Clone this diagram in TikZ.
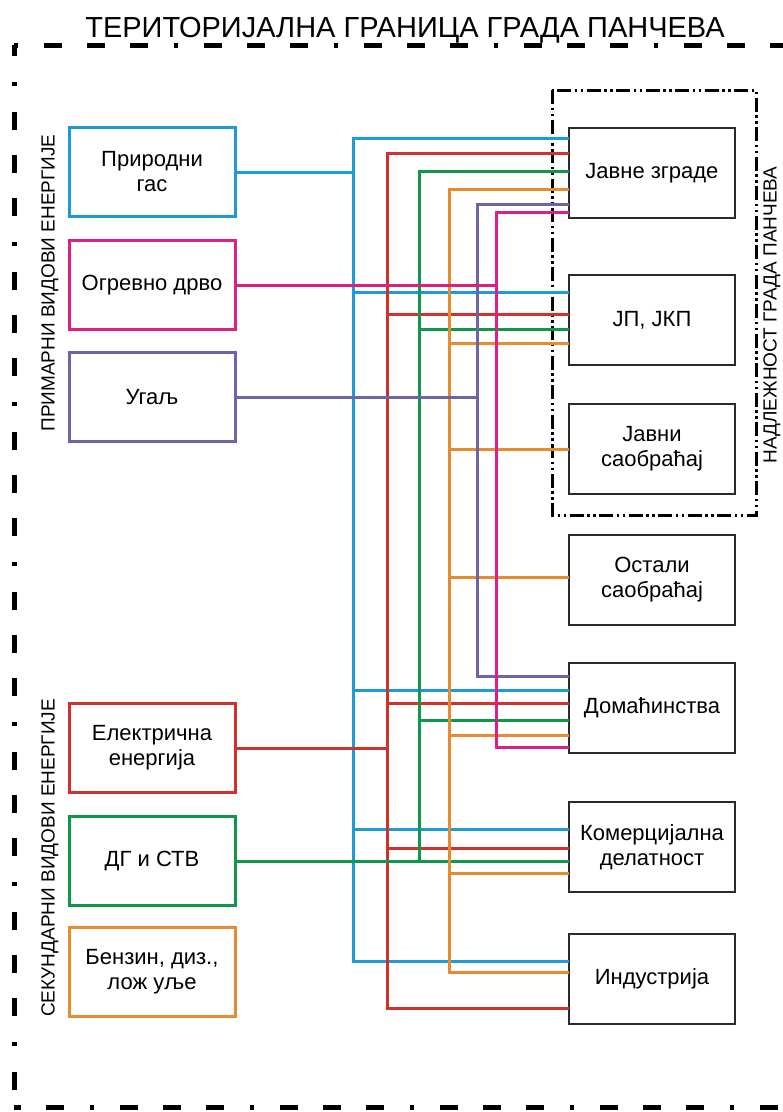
\documentclass[tikz,border=0pt]{standalone}
\usepackage{fontspec}
\setmainfont{Liberation Sans}
\usetikzlibrary{positioning, calc}
\definecolor{pcblue}{HTML}{1E9BD7}
\definecolor{pcred}{HTML}{D0312D}
\definecolor{pcgreen}{HTML}{10984A}
\definecolor{pcorange}{HTML}{E88B2E}
\definecolor{pcpurple}{HTML}{6E64A8}
\definecolor{pcmagenta}{HTML}{DE1F83}
\definecolor{pcgray}{HTML}{2B2B2B}

\begin{document}
\begin{tikzpicture}[
  x=1pt, y=-1pt,
  every node/.style={font=\fontsize{22}{25}\selectfont},
  srcnode/.style={rectangle, draw, line width=3pt, minimum width=166pt, minimum height=89pt, align=center, inner sep=0pt, outer sep=0pt},
  usenode/.style={rectangle, draw=pcgray, line width=2.4pt, minimum width=166pt, minimum height=90pt, align=center, inner sep=0pt, outer sep=0pt},
  sidelabel/.style={rotate=90, font=\fontsize{19}{20}\selectfont},
  flow/.style={line width=3pt},
  cityborder/.style={line width=5pt, dash pattern=on 4pt off 26pt on 18pt off 25pt on 18pt off 25pt on 18pt off 26pt},
  zonebox/.style={line width=3pt, black, dash pattern=on 14pt off 3.5pt on 2.5pt off 3.5pt on 2.5pt off 3.5pt},
]
\useasboundingbox (0,0) rectangle (783,1112);
\clip (0,0) rectangle (783,1112);

\node[anchor=base, font=\fontsize{29}{30}\selectfont] (title) at (405,37) {ТЕРИТОРИЈАЛНА ГРАНИЦА ГРАДА ПАНЧЕВА};
\draw[cityborder] (14,45) -- (800,45);
\draw[cityborder, dash phase=123pt] (14,45) -- (14,1107);
\draw[cityborder, dash phase=84pt] (14,1107) -- (800,1107);
\draw[zonebox] (552,90) rectangle (756,515);

\node[srcnode, draw=pcblue] (gas) at (152,172) {Природни\\гас};
\node[srcnode, draw=pcmagenta] (wood) at (152,285) {Огревно дрво};
\node[srcnode, draw=pcpurple] (coal) at (152,397) {Угаљ};
\node[srcnode, draw=pcred] (elec) at (152,748) {Електрична\\енергија};
\node[srcnode, draw=pcgreen] (heat) at (152,861) {ДГ и СТВ};
\node[srcnode, draw=pcorange] (fuel) at (152,972) {Бензин, диз.,\\лож уље};

\node[sidelabel] (primlbl) at (50,283) {ПРИМАРНИ ВИДОВИ ЕНЕРГИЈЕ};
\node[sidelabel] (seclbl) at (50,858) {СЕКУНДАРНИ ВИДОВИ ЕНЕРГИЈЕ};
\node[sidelabel] (citylbl) at (772,315) {НАДЛЕЖНОСТ ГРАДА ПАНЧЕВА};

\node[usenode] (jz) at (652,173) {Јавне зграде};
\node[usenode] (jp) at (652,320) {ЈП, ЈКП};
\node[usenode] (js) at (652,449) {Јавни\\саобраћај};
\node[usenode] (os) at (652,580) {Остали\\саобраћај};
\node[usenode] (dom) at (652,708) {Домаћинства};
\node[usenode] (kom) at (652,847) {Комерцијална\\делатност};
\node[usenode] (ind) at (652,979) {Индустрија};

\coordinate (bBlue) at (353,0);
\coordinate (bRed) at (387,0);
\coordinate (bGreen) at (419,0);
\coordinate (bOrange) at (449,0);
\coordinate (bPurple) at (477,0);
\coordinate (bMagenta) at (496,0);

\draw[flow, pcblue] (jz.west |- 0,138) -- (bBlue |- 0,138) -- (bBlue |- 0,961) -- (ind.west |- 0,961);
\draw[flow, pcblue] (gas.east) -- (gas.east -| bBlue);
\foreach \t/\yy in {jp/292, dom/690, kom/829}
  \draw[flow, pcblue] (bBlue |- 0,\yy) -- (\t.west |- 0,\yy);

\draw[flow, pcred] (jz.west |- 0,153) -- (bRed |- 0,153) -- (bRed |- 0,1008) -- (ind.west |- 0,1008);
\draw[flow, pcred] (elec.east) -- (elec.east -| bRed);
\foreach \t/\yy in {jp/314, dom/703, kom/848}
  \draw[flow, pcred] (bRed |- 0,\yy) -- (\t.west |- 0,\yy);

\draw[flow, pcgreen] (jz.west |- 0,171) -- (bGreen |- 0,171) -- (bGreen |- heat.east);
\draw[flow, pcgreen] (heat.east) -- (kom.west |- heat.east);
\foreach \t/\yy in {jp/329, dom/720}
  \draw[flow, pcgreen] (bGreen |- 0,\yy) -- (\t.west |- 0,\yy);

\draw[flow, pcorange] (jz.west |- 0,189) -- (bOrange |- 0,189) -- (bOrange |- 0,972) -- (ind.west |- 0,972);
\foreach \t/\yy in {jp/343, js/449, os/577, dom/735, kom/873}
  \draw[flow, pcorange] (bOrange |- 0,\yy) -- (\t.west |- 0,\yy);

\draw[flow, pcpurple] (jz.west |- 0,204) -- (bPurple |- 0,204) -- (bPurple |- 0,676) -- (dom.west |- 0,676);
\draw[flow, pcpurple] (coal.east) -- (coal.east -| bPurple);

\draw[flow, pcmagenta] (jz.west |- 0,212) -- (bMagenta |- 0,212) -- (bMagenta |- 0,747) -- (dom.west |- 0,747);
\draw[flow, pcmagenta] (wood.east) -- (wood.east -| bMagenta);
\end{tikzpicture}
\end{document}
